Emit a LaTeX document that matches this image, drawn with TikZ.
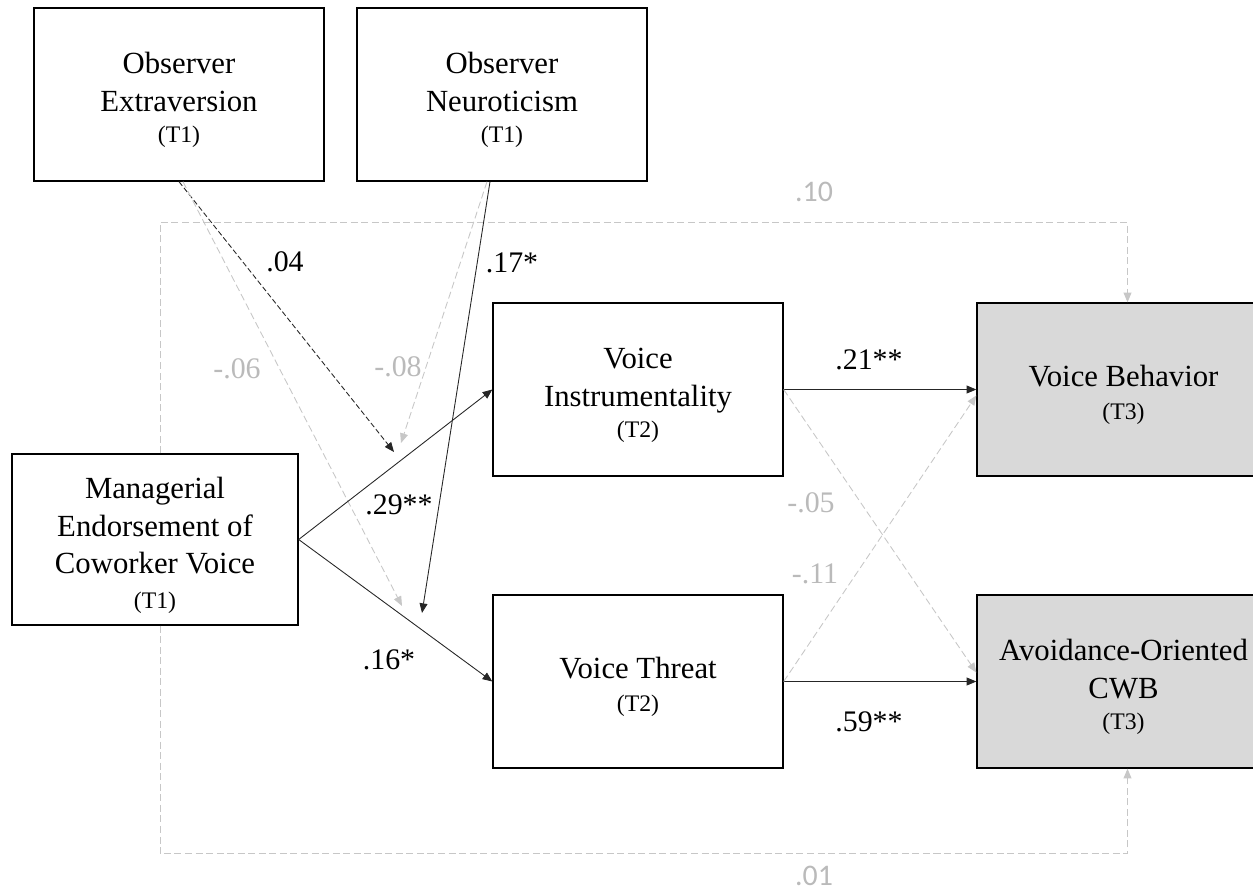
\documentclass[tikz,border=0pt]{standalone}
\usepackage{fontspec}
\setmainfont{Liberation Serif}
\newfontfamily\calibrifont{Carlito}
\usetikzlibrary{arrows.meta, calc}

\newcommand{\boxfont}{\fontsize{17.5}{21.5}\selectfont}
\newcommand{\wavefont}{\fontsize{13.5}{16}\selectfont}
\newcommand{\coeffont}{\fontsize{17}{20}\selectfont}
% extra room above the first line, so the text sits a bit low in its box
\newcommand{\topgap}{\rule{0pt}{18.5pt}}

\tikzset{
  var/.style={draw, line width=0.8pt, fill=white, minimum width=5.8cm, minimum height=3.46cm,
    align=center, font=\boxfont, inner sep=2pt},
  outcome/.style={var, fill=black!15},
  path/.style={-{Triangle[length=5.5pt, width=4.5pt]}, line width=0.5pt, black!85},
  mod/.style={path, dash pattern=on 3pt off 1.5pt},
  nspath/.style={-{Triangle[length=5.5pt, width=4.5pt]}, line width=0.5pt, black!22,
    dash pattern=on 4pt off 2pt},
  coef/.style={font=\coeffont, inner sep=0pt},
  nscoef/.style={coef, text=black!27},
}

\begin{document}
\begin{tikzpicture}[x=0.02cm, y=-0.02cm]
  \useasboundingbox (0,0) rectangle (1253,893);

  % variables
  \node[var] (ext) at (179,94.5) {\topgap Observer\\Extraversion\\[-3.5pt]{\wavefont (T1)}};
  \node[var] (neu) at (502,94.5) {\topgap Observer\\Neuroticism\\[-3.5pt]{\wavefont (T1)}};
  \node[var, minimum width=5.72cm, minimum height=3.42cm] (mgr) at (155,539.5)
    {\topgap Managerial\\Endorsement of\\Coworker Voice\\[-2pt]{\wavefont (T1)}};
  \node[var] (vi) at (638,389.5) {\topgap Voice\\Instrumentality\\[-3.5pt]{\wavefont (T2)}};
  \node[var] (vt) at (638,681.5) {\topgap Voice Threat\\[-3pt]{\wavefont (T2)}};
  \node[outcome, minimum width=5.86cm] (vb) at (1123.5,389.5)
    {\topgap Voice Behavior\\[-3pt]{\wavefont (T3)}};
  \node[outcome, minimum width=5.86cm] (cwb) at (1123.5,681.5)
    {\topgap Avoidance-Oriented\\CWB\\[-3.5pt]{\wavefont (T3)}};

  % direct effects of endorsement on the outcomes
  \draw[nspath] ($(mgr.north)+(5,0)$) |- ($(vb.north)+(4,-80)$) -- ($(vb.north)+(4,0)$);
  \draw[nspath] ($(mgr.south)+(5,0)$) |- ($(cwb.south)+(4,85)$) -- ($(cwb.south)+(4,0)$);

  % moderation arrows end on the paths
  \coordinate (extA) at (394,452);
  \coordinate (extB) at (402,606);
  \coordinate (neuA) at (422,613);
  \coordinate (neuB) at (401,443);
  \draw[mod] (ext.south) -- (extA);
  \draw[nspath] ($(ext.south)+(4,0)$) -- (extB);
  \draw[path] ($(neu.south)+(-12,0)$) -- (neuA);
  \draw[nspath] ($(neu.south)+(-15,0)$) -- (neuB);

  % mediation paths
  \draw[path] (mgr.east) -- (vi.west);
  \draw[path] (mgr.east) -- (vt.west);
  \draw[path] (vi.east) -- (vb.west);
  \draw[path] (vt.east) -- (cwb.west);
  \draw[nspath] (vi.east) -- ($(cwb.west)+(0,-9)$);
  \draw[nspath] (vt.east) -- ($(vb.west)+(0,6)$);

  % coefficients
  \node[nscoef, font=\calibrifont\coeffont] (c10) at (814,192) {.10};
  \node[nscoef, font=\calibrifont\coeffont] (c01) at (814,876) {.01};
  \node[coef] (c04) at (285,262) {.04};
  \node[coef] (c17) at (512,263) {.17*};
  \node[nscoef] (c06) at (237,369) {-.06};
  \node[nscoef] (c08) at (398,367) {-.08};
  \node[coef] (c29) at (399,505) {.29**};
  \node[coef] (c16) at (389,660) {.16*};
  \node[coef] (c21) at (869,360) {.21**};
  \node[nscoef] (c05) at (811,503) {-.05};
  \node[nscoef] (c11) at (815,574) {-.11};
  \node[coef] (c59) at (869,722) {.59**};
\end{tikzpicture}
\end{document}
